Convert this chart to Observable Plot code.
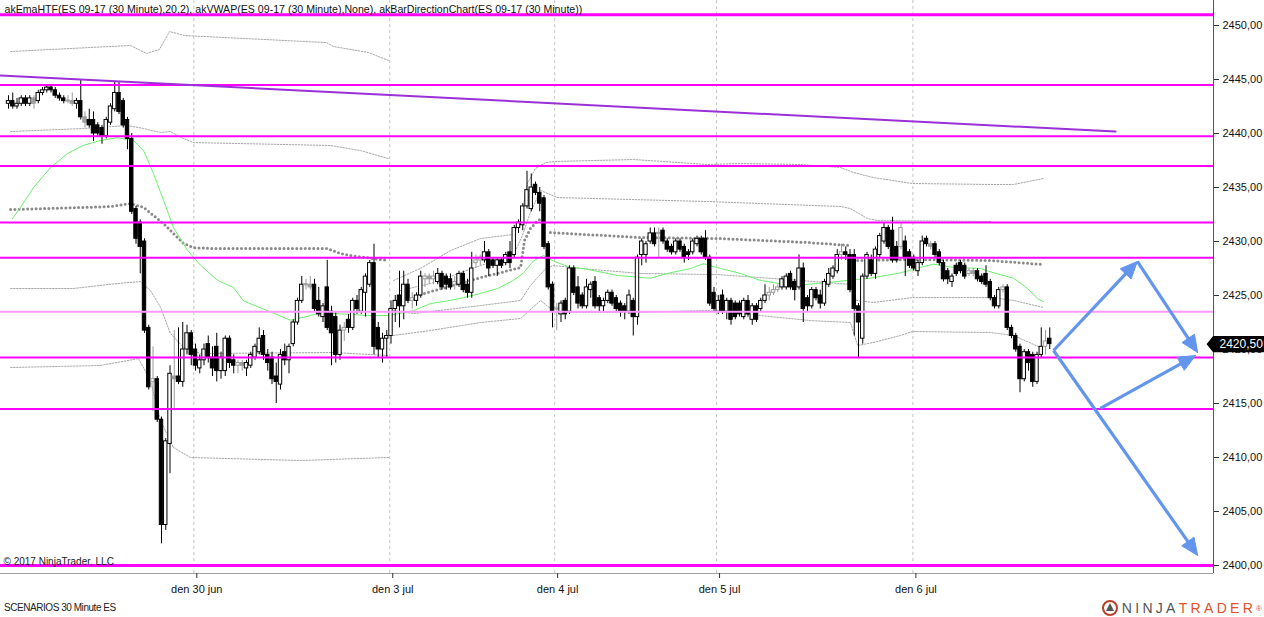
<!DOCTYPE html>
<html><head><meta charset="utf-8">
<script src="https://cdn.jsdelivr.net/npm/d3@7"></script>
<script src="https://cdn.jsdelivr.net/npm/@observablehq/plot@0.6"></script>
<style>
body{margin:0;background:#fff;font-family:"Liberation Sans",Arial,sans-serif;}
#chart{width:1264px;height:598px;}
#footer{position:relative;width:1264px;height:19px;}
#scen{position:absolute;left:4px;top:4px;font-size:10px;letter-spacing:-0.45px;color:#222;}
#logo{position:absolute;right:2px;top:1px;display:flex;align-items:center;font-size:14px;letter-spacing:3.3px;}
#logo .n{color:#555;}#logo .t{color:#e0522c;}#logo sup{font-size:8px;color:#e0522c;letter-spacing:0;}
</style></head><body>
<div id="chart"></div>
<div id="footer"><span id="scen">SCENARIOS 30 Minute ES</span>
<span id="logo"><svg width="22" height="18" viewBox="0 0 22 18"><circle cx="10" cy="9" r="7" fill="none" stroke="#b8402a" stroke-width="2"/><path d="M6 12 L10 4 L14 12 Z" fill="#555"/></svg><span class="n">NINJA</span><span class="t">TRADER</span><sup>®</sup></span></div>
<script>
// ---------- data: [open, high, low, close] per 30-minute bar ----------
const jun29 = [
[2442.75,2443.5,2442.25,2443.0],[2443.0,2443.75,2442.25,2442.5],[2442.5,2443.25,2442.25,2442.75],[2442.75,2443.5,2442.5,2443.25],
[2443.25,2443.5,2442.5,2442.75],[2442.75,2443.5,2442.5,2443.25],[2443.25,2443.5,2442.25,2442.75],[2443.0,2444.0,2442.75,2443.75],
[2443.75,2444.25,2443.5,2444.0],[2444.0,2444.5,2443.75,2444.25],[2444.25,2444.5,2443.75,2444.0],[2444.0,2444.25,2443.25,2443.5],
[2443.5,2443.75,2443.0,2443.25],[2443.25,2443.5,2442.75,2443.0],[2443.0,2443.5,2442.75,2443.0],[2443.0,2443.75,2442.5,2442.75],
[2442.75,2443.25,2442.25,2443.0],[2443.0,2445.0,2441.25,2441.5],[2441.5,2442.0,2440.5,2441.0],[2441.25,2442.25,2440.5,2440.75],
[2441.25,2442.0,2439.25,2440.0],[2440.75,2441.0,2439.75,2440.0],[2440.5,2440.75,2439.0,2439.75],[2439.75,2441.5,2439.5,2441.25],
[2441.0,2442.75,2440.75,2442.5],[2442.25,2444.75,2442.0,2443.75],[2443.75,2444.75,2441.75,2442.0],[2443.0,2443.25,2440.5,2440.75],
[2441.25,2441.5,2438.5,2439.5],[2439.5,2440.0,2432.5,2432.75],[2433.0,2433.25,2429.75,2430.25],[2431.75,2432.0,2427.0,2429.5],
[2430.0,2430.25,2421.5,2421.75],[2422.0,2422.25,2416.25,2416.5],[2417.0,2420.25,2414.25,2417.25],[2417.25,2417.5,2413.25,2413.5],
[2413.5,2413.75,2402.0,2403.75],[2403.75,2411.75,2403.25,2411.5],[2411.25,2418.5,2408.5,2417.75],[2417.5,2421.75,2414.5,2417.25],
[2417.5,2422.0,2416.75,2417.0],[2417.0,2422.5,2416.5,2420.0],[2420.0,2422.25,2419.5,2421.5],[2421.5,2421.75,2418.5,2419.5]];
const jun30 = [
[2420.0,2420.5,2418.0,2418.5],[2418.25,2419.5,2417.75,2419.0],[2419.0,2420.5,2418.5,2420.0],[2420.5,2421.25,2418.75,2419.25],
[2419.25,2420.25,2417.5,2418.25],[2420.25,2421.5,2417.0,2418.0],[2418.0,2419.75,2417.25,2419.25],[2418.0,2421.25,2417.5,2421.0],
[2421.0,2421.25,2418.25,2418.75],[2419.0,2419.5,2417.75,2418.5],[2418.5,2419.0,2417.75,2418.75],[2418.75,2419.0,2418.0,2418.5],
[2418.25,2419.0,2417.5,2418.75],[2418.5,2419.75,2418.25,2419.5],[2419.25,2420.5,2419.0,2420.25],[2419.75,2422.0,2419.5,2421.0],
[2421.25,2421.75,2419.0,2419.5],[2419.5,2420.0,2418.0,2418.75],[2419.25,2419.75,2416.75,2417.25],[2417.5,2418.75,2415.0,2417.0],
[2416.75,2420.0,2416.25,2419.5],[2419.75,2420.5,2418.5,2419.0],[2419.0,2420.5,2417.75,2420.25],[2420.5,2422.75,2420.25,2422.5],
[2422.5,2424.75,2422.25,2424.5],[2424.5,2426.75,2424.25,2426.0],[2426.0,2426.5,2425.5,2426.0],[2426.0,2426.75,2425.5,2425.75],
[2426.0,2426.5,2423.5,2423.75],[2424.5,2425.75,2423.0,2423.25],[2423.0,2424.25,2422.5,2424.0],[2425.75,2428.25,2421.75,2422.0],
[2423.5,2424.0,2418.5,2421.5],[2423.0,2423.5,2418.75,2419.5],[2419.5,2422.25,2419.0,2421.75],[2421.75,2422.5,2420.75,2422.0],
[2422.75,2423.25,2421.5,2422.0],[2422.0,2424.75,2421.75,2424.5],[2424.5,2425.0,2423.25,2423.75],[2423.5,2425.75,2423.25,2425.5],
[2425.25,2427.0,2423.0,2426.75],[2426.0,2428.25,2425.75,2428.0],[2428.0,2429.75,2419.5,2420.25],[2422.0,2422.5,2419.25,2420.0],
[2420.0,2421.5,2418.75,2421.0],[2421.0,2421.75,2419.25,2421.25]];
const jul3 = [
[2421.25,2424.5,2420.5,2423.75],[2423.75,2425.0,2422.5,2424.5],[2425.0,2427.25,2422.0,2424.0],[2424.0,2427.25,2422.75,2426.0],
[2426.0,2426.5,2424.25,2424.5],[2424.5,2425.25,2423.75,2424.75],[2424.5,2425.25,2424.0,2425.0],[2425.0,2427.25,2424.75,2426.75],
[2426.5,2427.0,2425.75,2426.75],[2426.75,2427.0,2426.0,2426.5],[2426.5,2427.25,2426.0,2426.75],[2426.25,2427.5,2426.0,2427.0],
[2427.0,2427.25,2425.5,2425.75],[2426.75,2427.0,2425.5,2426.0],[2426.5,2427.0,2425.5,2425.75],[2426.0,2426.75,2425.5,2426.25],
[2426.0,2427.25,2425.75,2427.0],[2427.0,2427.25,2425.25,2425.5],[2426.0,2426.5,2424.75,2425.25],[2425.25,2429.0,2424.75,2427.5],
[2428.0,2428.75,2427.5,2428.25],[2428.25,2428.75,2427.75,2428.5],[2428.25,2430.0,2428.0,2429.0],[2429.0,2429.25,2426.75,2427.5],
[2428.25,2428.5,2427.5,2427.75],[2427.75,2428.5,2426.75,2428.25],[2428.25,2428.5,2427.5,2427.75],[2428.0,2429.0,2427.75,2428.75],
[2429.0,2430.0,2427.5,2428.0],[2428.75,2431.5,2428.5,2431.25],[2431.25,2432.0,2430.75,2431.75],[2431.5,2433.5,2431.0,2433.25],
[2433.25,2436.5,2433.0,2434.75],[2433.0,2436.25,2432.75,2435.0],[2435.25,2435.5,2434.25,2434.5],[2434.5,2435.0,2432.75,2433.5],
[2434.0,2434.25,2429.25,2429.5],[2429.75,2430.0,2425.5,2425.75],[2426.0,2426.25,2422.0,2423.5]];
const jul4 = [
[2423.75,2424.25,2421.75,2423.75],[2423.25,2424.5,2422.5,2424.25],[2424.5,2424.75,2422.75,2423.25],[2423.5,2427.75,2423.25,2427.5],
[2427.5,2427.75,2425.0,2425.25],[2425.75,2426.75,2423.75,2424.25],[2425.0,2425.25,2423.75,2424.0],[2424.0,2426.5,2423.75,2425.75],
[2425.5,2426.25,2424.75,2426.0],[2426.25,2426.75,2423.75,2424.0],[2424.75,2425.0,2423.5,2424.0],[2424.0,2424.75,2423.5,2424.5],
[2424.5,2425.5,2424.25,2425.25],[2425.25,2425.5,2424.0,2424.25],[2424.75,2425.0,2423.5,2423.75],[2424.25,2424.5,2423.0,2423.5],
[2424.0,2424.25,2422.75,2423.5],[2423.5,2425.5,2423.25,2425.0],[2424.5,2424.75,2421.25,2423.0],[2423.0,2428.75,2422.25,2428.5],
[2428.75,2430.25,2427.75,2430.0],[2428.75,2430.0,2428.0,2429.75],[2430.0,2431.25,2429.75,2430.75],[2430.75,2431.25,2429.5,2429.75],
[2430.75,2431.25,2428.5,2430.75],[2431.0,2431.25,2429.75,2430.0],[2430.0,2430.25,2429.0,2429.25],[2429.5,2429.75,2428.75,2429.0],
[2429.0,2430.25,2428.75,2430.0],[2430.0,2430.25,2429.0,2429.25],[2429.5,2429.75,2428.0,2428.5],[2429.0,2429.25,2428.25,2428.75],
[2429.0,2430.25,2428.75,2430.0],[2429.75,2430.5,2429.5,2430.25],[2430.25,2430.5,2428.75,2429.0],[2430.25,2431.0,2428.25,2428.5],
[2428.5,2428.75,2424.0,2424.25],[2425.25,2425.75,2423.5,2423.75]];
const jul5 = [
[2423.5,2425.0,2423.25,2424.5],[2425.0,2425.5,2423.25,2423.5],[2423.5,2424.75,2422.75,2424.5],[2424.5,2424.75,2422.25,2422.75],
[2424.25,2424.5,2422.75,2423.0],[2424.25,2424.5,2423.0,2423.25],[2423.0,2424.75,2422.75,2424.5],[2424.5,2425.0,2423.0,2423.25],
[2422.75,2424.25,2422.25,2424.0],[2424.0,2424.25,2422.5,2422.75],[2423.75,2424.75,2423.5,2424.5],[2424.5,2426.0,2424.25,2425.0],
[2425.0,2425.75,2424.5,2425.25],[2425.25,2426.0,2425.0,2425.5],[2425.5,2426.0,2425.25,2425.75],[2425.75,2426.75,2425.5,2426.5],
[2425.75,2427.0,2425.5,2426.75],[2427.0,2427.25,2425.5,2425.75],[2426.25,2426.5,2424.5,2425.5],[2425.75,2428.75,2425.5,2427.5],
[2427.5,2428.0,2422.5,2423.75],[2424.75,2425.0,2423.5,2424.0],[2424.0,2425.75,2423.75,2425.5],[2425.5,2425.75,2424.5,2424.75],
[2425.0,2425.5,2423.75,2424.25],[2424.25,2426.5,2424.0,2426.25],[2426.0,2427.5,2425.75,2427.0],[2426.75,2427.75,2426.5,2427.5],
[2427.25,2429.25,2427.0,2428.75],[2428.75,2429.75,2428.25,2429.0],[2429.0,2429.5,2428.25,2428.75],[2428.75,2429.25,2425.25,2425.5],
[2428.75,2429.25,2421.25,2423.75],[2424.0,2424.25,2419.25,2422.5],[2421.0,2427.0,2420.5,2426.75],[2426.75,2429.0,2426.5,2428.75],
[2428.25,2428.75,2426.75,2427.0],[2427.0,2429.5,2426.5,2429.25],[2428.75,2430.75,2428.5,2430.5],[2430.0,2431.75,2429.75,2431.25],
[2431.25,2431.5,2429.25,2429.5],[2431.0,2432.25,2428.0,2428.25],[2429.5,2430.0,2428.0,2428.25],[2429.5,2431.75,2429.25,2431.25],
[2430.0,2430.5,2426.75,2428.5],[2429.0,2429.25,2427.5,2427.75]];
const jul6 = [
[2428.5,2428.75,2427.25,2427.5],[2427.25,2428.25,2426.75,2428.0],[2428.0,2430.5,2427.75,2430.0],[2430.25,2430.5,2429.5,2429.75],
[2429.75,2430.0,2429.25,2429.5],[2429.75,2430.0,2428.5,2428.75],[2429.0,2429.25,2427.75,2428.0],[2428.0,2428.25,2426.25,2426.5],
[2427.25,2427.5,2426.0,2426.5],[2426.25,2427.0,2425.75,2426.75],[2427.75,2428.0,2426.75,2427.0],[2428.0,2428.25,2427.0,2427.25],
[2427.75,2428.0,2426.5,2426.75],[2427.0,2427.5,2426.75,2427.25],[2427.25,2427.5,2426.75,2427.0],[2427.25,2427.5,2426.25,2426.5],
[2426.75,2427.0,2426.0,2426.25],[2427.0,2427.75,2425.75,2426.0],[2426.25,2426.5,2424.5,2424.75],[2424.75,2425.0,2423.75,2424.0],
[2424.0,2425.75,2423.75,2425.5],[2425.5,2426.0,2425.25,2425.75],[2425.75,2426.0,2421.75,2422.0],[2422.0,2422.25,2421.0,2421.25],
[2421.25,2421.5,2419.75,2420.0],[2420.25,2420.5,2416.0,2417.25],[2417.25,2420.0,2417.0,2419.75],[2419.75,2420.0,2418.0,2418.75],
[2419.5,2419.75,2416.5,2417.0],[2417.0,2419.75,2416.75,2419.5],[2419.5,2422.0,2419.25,2420.25],[2420.25,2421.75,2419.5,2420.75],
[2421.0,2422.0,2420.0,2420.5]];
// bars drawn in grey (neutral direction)
const greyBars = [6,14,15,18,34,39,54,55,70,71,79,95,98,99,100,105,110,111,129,153,179,180,181,196,210,217,226,227,234,244];

// x-axis (bar index of each day's start) and labels
const dayTicks = [43.6, 89.7, 128.5, 166.6, 212.8];
const dayLabels = ["den 30 jun","den 3 jul","den 4 jul","den 5 jul","den 6 jul"];
const priceTicks = [2400,2405,2410,2415,2420,2425,2430,2435,2440,2445,2450];

// horizontal level lines
const levels = [2444.5, 2439.75, 2437, 2431.75, 2428.5, 2419.25, 2414.5];
const thickLevels = [2451, 2400];
const lightLevels = [2423.5];

// trend line [barIndex, price]
const trend = [[-1.88, 2445.37], [260.5, 2440.18]];

// akEmaHTF (green) [barIndex, price]
const emaIdx = [0.9,2.8,5.9,9.9,13.9,17.6,21.6,25.6,29.4,31.8,34.1,36.5,38.8,42.1,45.2,49.2,52.9,55.3,60.9,66.4,71.1,73.4,78.1,84.5,89.2,91.5,95.3,99.3,103.3,107.1,111.1,115.1,118.8,121.2,123.5,125.9,128.2,132.2,135.3,143.3,151.1,155.1,160.5,163.5,167.5,172.2,176.9,181.6,187.1,192.7,197.4,202.8,209.9,214.6,217.6,222.4,228.7,231.8,236.5,239.8,242.1,243.5];
const emaVal = [2432.1,2433.15,2435.0,2436.85,2438.15,2438.9,2439.35,2439.6,2439.35,2438.4,2436.3,2433.8,2431.3,2429.2,2427.8,2426.4,2425.75,2424.5,2423.6,2422.7,2423.15,2423.4,2423.3,2423.15,2423.15,2423.3,2423.6,2424.25,2424.5,2424.8,2425.2,2425.65,2426.4,2427.1,2428.2,2428.7,2428.2,2427.6,2427.5,2426.85,2426.6,2427.05,2427.5,2427.95,2427.5,2427.05,2426.4,2426.1,2426.0,2426.2,2426.4,2426.6,2427.1,2427.6,2427.9,2427.6,2427.5,2427.1,2426.6,2425.65,2424.7,2424.45];

// akVWAP (thick dotted) [barIndex, price]
const vwapA = [[0.5,2432.96],[17.6,2433.15],[24.0,2433.24],[28.7,2433.52],[31.8,2433.15],[34.1,2432.41],[36.5,2431.66],[38.8,2430.74],[41.2,2429.81],[43.5,2429.44],[47.5,2429.35],[75.1,2429.35],[78.1,2428.89],[80.5,2428.7],[89.2,2428.24]];
const vwapB = [[96.9,2425.09],[111.1,2426.66],[120.5,2427.59],[121.4,2430.09],[122.8,2431.2],[124.5,2431.94],[126.4,2432.22]];
const vwapB2 = [[127.5,2430.83],[148.7,2430.37],[166.8,2430.28],[188.0,2429.91],[198.1,2429.63]];
const vwapC = [[199.8,2428.24],[211.5,2428.33],[231.1,2428.24],[243.5,2427.87]];

// VWAP bands (thin dotted) [barIndex, price]
const bandAUpOuter = [[0.5,2447.59],[28.7,2448.15],[32.5,2447.41],[35.5,2447.78],[37.9,2449.44],[41.4,2449.07],[74.8,2448.42],[76.5,2448.05],[84.7,2447.5],[89.4,2446.76]];
const bandAUpInner = [[0.5,2440.18],[17.6,2440.46],[28.0,2440.74],[31.8,2440.46],[35.8,2440.09],[38.1,2440.18],[41.2,2439.53],[43.5,2439.16],[75.8,2438.89],[82.8,2438.42],[89.4,2437.68]];
const bandALoInner = [[0.5,2425.65],[15.3,2425.65],[25.6,2426.11],[31.1,2426.29],[33.4,2425.46],[35.8,2423.89],[38.1,2421.48],[41.2,2420.19],[45.2,2419.63],[76.5,2419.72],[89.4,2419.44]];
const bandALoOuter = [[0.5,2418.33],[21.6,2418.52],[30.6,2419.16],[33.4,2417.13],[35.8,2413.42],[38.8,2410.93],[42.8,2410.0],[68.7,2409.72],[89.4,2410.0]];
const bandBUpOuter = [[90.6,2426.39],[96.9,2427.5],[104.0,2429.16],[111.1,2430.28],[118.8,2430.65],[120.5,2431.94],[122.1,2435.37],[124.0,2436.76],[126.4,2437.31],[128.7,2437.41],[147.1,2437.59],[164.5,2437.13],[172.2,2437.22],[186.4,2437.13],[195.8,2436.85],[198.8,2436.39],[203.5,2435.92],[212.7,2435.37],[231.1,2435.28],[236.5,2435.28],[243.5,2435.83]];
const bandBUpInner = [[92.2,2425.46],[99.3,2426.11],[111.1,2427.78],[118.8,2428.7],[120.9,2430.55],[122.8,2432.68],[125.2,2434.72],[129.2,2434.07],[164.5,2433.7],[195.8,2433.24],[198.1,2433.05],[202.1,2432.13],[204.5,2431.94],[231.1,2431.85]];
const bandBLoInner = [[90.6,2423.61],[95.3,2423.33],[111.1,2424.07],[120.5,2424.54],[122.8,2425.92],[126.4,2427.5],[128.2,2427.78],[134.6,2427.5],[148.7,2427.04],[166.8,2426.94],[186.4,2426.39],[198.1,2426.02],[199.5,2424.54],[203.5,2424.35],[212.7,2424.81],[231.1,2424.81],[236.5,2424.54],[243.5,2423.89]];
const bandBLoOuter = [[90.6,2421.3],[99.3,2421.76],[111.1,2422.5],[120.5,2422.87],[125.2,2424.54],[128.7,2423.42],[147.1,2423.42],[164.5,2423.61],[172.2,2423.33],[188.7,2422.68],[198.1,2422.5],[199.8,2420.37],[203.5,2420.65],[209.9,2421.3],[212.7,2421.67],[231.1,2421.57],[236.5,2421.3],[242.8,2420.19]];

// scenario arrows [fromIdx, fromPrice, toIdx, toPrice]
const arrows = [[245.9,2419.91,265.6,2428.15],[265.6,2428.15,279.8,2419.72],[256.9,2414.54,279.3,2419.44],[245.9,2419.91,279.8,2400.93]];

const lastPrice = 2420.5;
const legendText = "akEmaHTF(ES 09-17 (30 Minute),20,2), akVWAP(ES 09-17 (30 Minute),None), akBarDirectionChart(ES 09-17 (30 Minute))";
const copyright = "© 2017 NinjaTrader, LLC";

// ---------- build ----------
const W = 1264, H = 598, MR = 51, MB = 25;
const X0 = -8/4.25, X1 = (W - MR - 8)/4.25;
const Y0 = 2399.26, Y1 = 2452.315;
const kx = (W - MR)/(X1 - X0), ky = (H - MB)/(Y1 - Y0);

const bars = [jun29, jun30, jul3, jul4, jul5, jul6].flat().map(([o,h,l,c], i) => {
  let lo = Math.min(o,c), hi = Math.max(o,c);
  if (hi - lo < 0.1) { const m = (hi+lo)/2; lo = m - 0.05; hi = m + 0.05; }
  const grey = greyBars.includes(i);
  const up = c >= o;
  return {i, o, h, l, c, lo, hi,
    fill: grey ? (up ? "#ffffff" : "#a0a0a0") : (up ? "#ffffff" : "#000000"),
    stroke: grey ? "#9a9a9a" : "#000000"};
});

const ema = emaIdx.map((x, k) => [x, emaVal[k]]);

// arrow shafts & filled heads
const L = 17, HW = 7.5;
const shafts = [], heads = [];
arrows.forEach(([x1,y1,x2,y2], k) => {
  const dx = (x2-x1)*kx, dy = -(y2-y1)*ky, len = Math.hypot(dx,dy);
  const ux = dx/len, uy = dy/len;
  const bx = x2 - L*ux/kx, by = y2 + L*uy/ky;
  shafts.push({x1, y1, x2: bx + 2*ux/kx, y2: by - 2*uy/ky});
  const lx = bx + HW*(-uy)/kx, ly = by - HW*ux/ky;
  const rx = bx - HW*(-uy)/kx, ry = by + HW*ux/ky;
  heads.push({k, x: x2, y: y2}, {k, x: lx, y: ly}, {k, x: rx, y: ry}, {k, x: x2, y: y2});
});

// last-price marker polygon (in the right margin)
const tipX = (1207-8)/4.25, bodyX = (1213-8)/4.25, endX = (1263-8)/4.25, hh = 7.3/ky;
const marker = [[tipX,lastPrice],[bodyX,lastPrice+hh],[endX,lastPrice+hh],[endX,lastPrice-hh],[bodyX,lastPrice-hh],[tipX,lastPrice]];

const fmt = d => d.toFixed(2).replace(".", ",");
const P = d => d[0], V = d => d[1];
const band = arr => Plot.line(arr, {x: P, y: V, stroke: "#a6a6a6", strokeWidth: 1, strokeDasharray: "1.5,1.5"});
const vw = arr => Plot.line(arr, {x: P, y: V, stroke: "#8a8a8a", strokeWidth: 3, strokeDasharray: "0,4.25", strokeLinecap: "round"});

const chart = Plot.plot({
  width: W, height: H, marginTop: 0, marginLeft: 0, marginRight: MR, marginBottom: MB,
  x: {type: "linear", domain: [X0, X1]},
  y: {type: "linear", domain: [Y0, Y1]},
  color: {type: "identity"},
  style: {fontFamily: "'Liberation Sans', Arial, sans-serif", fontSize: "11px", background: "#fff", color: "#111"},
  marks: [
    Plot.ruleX(dayTicks, {stroke: "#c4c4c4", strokeDasharray: "3,3"}),
    band(bandAUpOuter), band(bandAUpInner), band(bandALoInner), band(bandALoOuter),
    band(bandBUpOuter), band(bandBUpInner), band(bandBLoInner), band(bandBLoOuter),
    vw(vwapA), vw(vwapB), vw(vwapB2), vw(vwapC),
    Plot.line(ema, {x: P, y: V, stroke: "#6cf06c", strokeWidth: 1}),
    Plot.ruleX(bars, {x: "i", y1: "l", y2: "h", stroke: "stroke", strokeWidth: 1}),
    Plot.rect(bars, {x1: d => d.i - 0.4, x2: d => d.i + 0.4, y1: "lo", y2: "hi", fill: "fill", stroke: "stroke", strokeWidth: 1}),
    Plot.ruleY(levels, {stroke: "#ff00ff", strokeWidth: 2}),
    Plot.ruleY(lightLevels, {stroke: "#ff99ff", strokeWidth: 2}),
    Plot.ruleY(thickLevels, {stroke: "#ff00ff", strokeWidth: 3}),
    Plot.line(trend, {x: P, y: V, stroke: "#9b30d8", strokeWidth: 2}),
    Plot.link(shafts, {x1: "x1", y1: "y1", x2: "x2", y2: "y2", stroke: "#6495ed", strokeWidth: 3.2}),
    Plot.line(heads, {x: "x", y: "y", z: "k", fill: "#6495ed", stroke: "#6495ed", strokeWidth: 1}),
    Plot.ruleX([X1], {stroke: "#555"}),
    Plot.ruleY([Y0], {stroke: "#a0a0a0"}),
    Plot.axisY(priceTicks, {anchor: "right", tickFormat: fmt, tickSize: 5, tickPadding: 4, fontSize: 11, stroke: "#333"}),
    Plot.axisX(dayTicks, {tickFormat: d => dayLabels[dayTicks.indexOf(d)], tickSize: 5, tickPadding: 7, fontSize: 11, stroke: "#333", dx: 3}),
    Plot.line(marker, {x: P, y: V, fill: "#000", stroke: "#000"}),
    Plot.text([lastPrice], {x: (1219-8)/4.25, y: d => d, text: fmt, fill: "#fff", textAnchor: "start", fontSize: 12}),
    Plot.text([legendText], {frameAnchor: "top-left", dx: 4, dy: 9, lineAnchor: "middle", textAnchor: "start", fontSize: 10.6, fill: "#111"}),
    Plot.text([copyright], {frameAnchor: "bottom-left", dx: 3, dy: -12, lineAnchor: "middle", textAnchor: "start", fontSize: 10, fill: "#222"})
  ]
});
document.getElementById("chart").appendChild(chart);
</script>
</body></html>
